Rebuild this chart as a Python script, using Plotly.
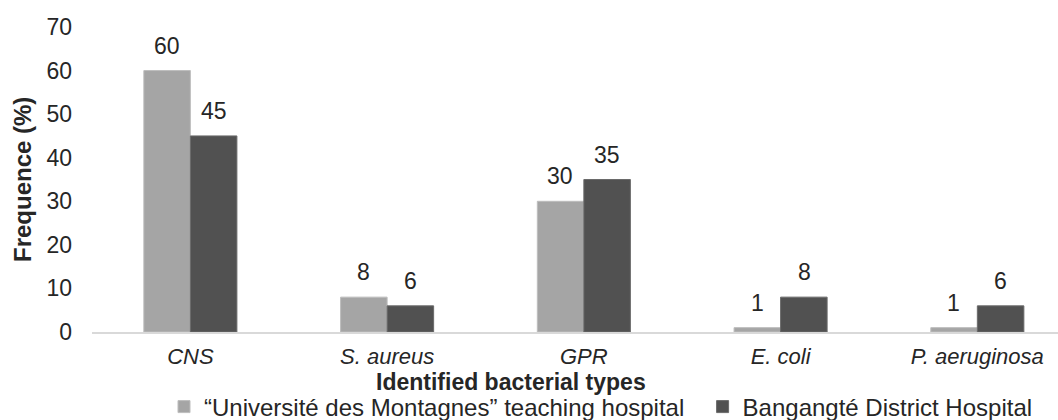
import plotly.graph_objects as go

categories = ["CNS", "S. aureus", "GPR", "E. coli", "P. aeruginosa"]
udm_values = [60, 8, 30, 1, 1]
bdh_values = [45, 6, 35, 8, 6]
series_names = ["\u201cUniversit\u00e9 des Montagnes\u201d teaching hospital", "Bangangt\u00e9 District Hospital"]
y_ticks = [0, 10, 20, 30, 40, 50, 60, 70]

FONT = "Arial, Liberation Sans, sans-serif"
TXT = "#262626"

L, T, PW, PH = 92, 27, 966, 305
W, H = 1058, 420
AX = T + PH  # pixel row of the x axis line

fig = go.Figure()
fig.add_trace(go.Bar(
    x=categories, y=udm_values, name=series_names[0] + "\u00a0\u00a0",
    marker=dict(color="#a5a5a5", line=dict(color="#bdbdbd", width=1)),
))
fig.add_trace(go.Bar(
    x=categories, y=bdh_values, name=series_names[1],
    marker=dict(color="#515151", line=dict(color="#6a6a6a", width=1)),
))

annotations = []
for vals, dx in ((udm_values, -23.5), (bdh_values, 23.5)):
    for c, v in zip(categories, vals):
        annotations.append(dict(x=c, y=v, xref="x", yref="y", text=str(v), showarrow=False,
                                xshift=dx, yshift=10, yanchor="bottom", xanchor="center",
                                font=dict(size=23, color=TXT)))

annotations += [
    dict(text="<b>Frequence (%)</b>", xref="paper", yref="paper", x=(22 - L) / PW,
         y=(AX - 180) / PH, xanchor="center", yanchor="middle", textangle=-90,
         showarrow=False, font=dict(size=24, color=TXT)),
    dict(text="<b>Identified bacterial types</b>", xref="paper", yref="paper",
         x=(511 - L) / PW, y=(AX - 382) / PH, xanchor="center", yanchor="middle",
         showarrow=False, font=dict(size=23, color=TXT)),
]

fig.update_layout(
    width=W, height=H,
    margin=dict(l=L, r=W - L - PW, t=T, b=H - T - PH, autoexpand=False),
    paper_bgcolor="white", plot_bgcolor="white",
    barmode="group", bargap=0.527, bargroupgap=0,
    font=dict(family=FONT, size=23, color=TXT),
    showlegend=True,
    legend=dict(orientation="h", x=(164 - L) / PW, xanchor="left", y=(AX - 407) / PH,
                yanchor="middle", font=dict(size=24, color=TXT), itemwidth=30,
                bgcolor="rgba(0,0,0,0)"),
    xaxis=dict(range=[-0.5, 4.41], showline=True, linecolor="#d9d9d9", linewidth=1.5,
               showgrid=False, ticks="", tickfont=dict(size=22, style="italic", color=TXT),
               ticklabelstandoff=4),
    yaxis=dict(range=[0, 70], tickvals=y_ticks, showgrid=False, zeroline=False,
               showline=False, ticks="", tickfont=dict(size=23, color=TXT),
               ticklabelstandoff=19),
    annotations=annotations,
)

# remove the browser's default 8px body margin so the figure sits at the page corner
fig.write_html("out.html", config={"displayModeBar": False},
               post_script="document.body.style.margin='0';")
